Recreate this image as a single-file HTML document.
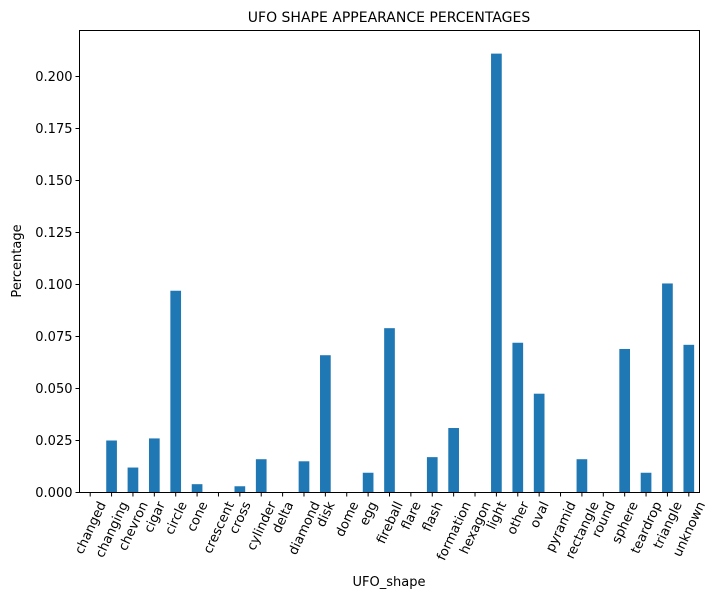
<!DOCTYPE html>
<html><head><meta charset="utf-8"><style>
body{margin:0;background:#fff}
svg text{font-family:"DejaVu Sans","Liberation Sans",sans-serif;fill:#000}
</style></head><body>
<svg id="s" width="718" height="599" xmlns="http://www.w3.org/2000/svg">
<text x="389" y="22" font-size="14" text-anchor="middle">UFO SHAPE APPEARANCE PERCENTAGES</text>
<text x="0" y="0" font-size="13" text-anchor="middle" transform="translate(21,261) rotate(-90)">Percentage</text>
<text x="389" y="586" font-size="13" text-anchor="middle">UFO_shape</text>
<g id="g"></g>
<rect x="79.5" y="30.5" width="620" height="462" fill="none" stroke="#000" stroke-width="1"/>
</svg>
<script>
var names=["changed","changing","chevron","cigar","circle","cone","crescent","cross","cylinder","delta","diamond","disk","dome","egg","fireball","flare","flash","formation","hexagon","light","other","oval","pyramid","rectangle","round","sphere","teardrop","triangle","unknown"];
var vals=[0,0.025,0.012,0.026,0.097,0.004,0,0.003,0.016,0,0.015,0.066,0,0.0095,0.079,0,0.017,0.031,0,0.211,0.072,0.0475,0,0.016,0,0.069,0.0095,0.1005,0.071];
var g=document.getElementById('g'),ns="http://www.w3.org/2000/svg";
var L=79.5,R=699.5,B=492.5,k=2080,st=(R-L)/29,h="";
function el(t,a,txt){var e=document.createElementNS(ns,t);for(var i in a)e.setAttribute(i,a[i]);if(txt)e.textContent=txt;g.appendChild(e);return e;}
for(var i=0;i<=8;i++){var v=i*0.025,y=B-v*k;el('line',{x1:L-4,x2:L,y1:y,y2:y,stroke:'#000'});el('text',{x:L-7,y:y+4.5,'font-size':13,'text-anchor':'end'},v.toFixed(3));}
for(var i=0;i<29;i++){var c=L+st*(i+0.5);
if(vals[i]>0)el('rect',{x:c-st/4,y:B-vals[i]*k,width:st/2,height:vals[i]*k,fill:'#1f77b4'});
el('line',{x1:c,x2:c,y1:B,y2:B+4,stroke:'#000'});
var t=el('text',{'font-size':13,'text-anchor':'middle',x:0,y:4.5},names[i]);
var w=t.getComputedTextLength();var a=65*Math.PI/180;
var hh=w*Math.sin(a)+13*Math.cos(a);
t.setAttribute('transform','translate('+c+','+(B+7+hh/2)+') rotate(-65)');}
</script>
</body></html>
